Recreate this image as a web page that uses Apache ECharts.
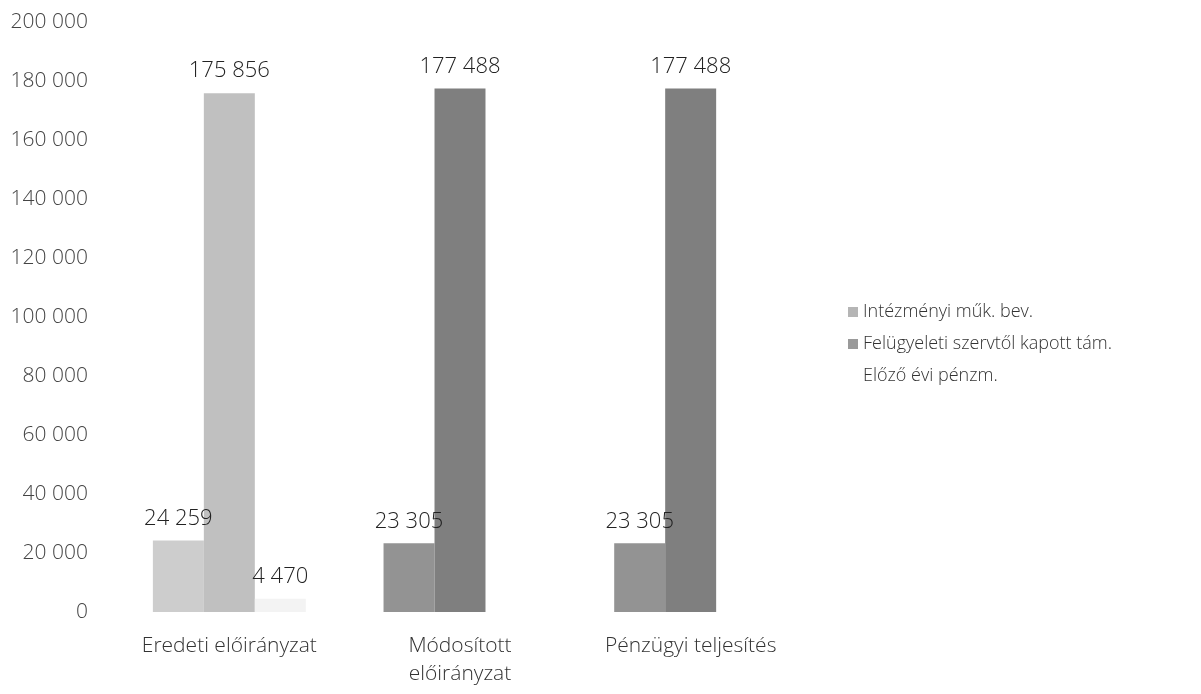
<!DOCTYPE html>
<html>
<head>
<meta charset="utf-8">
<script src="https://cdn.jsdelivr.net/npm/echarts@6/dist/echarts.min.js"></script>
<style>
html,body{margin:0;padding:0;background:#fff;}
#chart{width:1201px;height:694px;}
</style>
</head>
<body>
<div id="chart"></div>
<script>
var categories = ['Eredeti előirányzat', 'Módosított előirányzat', 'Pénzügyi teljesítés'];
var seriesNames = ['Intézményi műk. bev.', 'Felügyeleti szervtől kapott tám.', 'Előző évi pénzm.'];
var intezmenyi = [24259, 23305, 23305];
var felugyeleti = [175856, 177488, 177488];
var elozoEvi = [4470, null, null];
var yTicks = [0, 20000, 40000, 60000, 80000, 100000, 120000, 140000, 160000, 180000, 200000];

var fmt = function (v) {
  return String(v).replace(/\B(?=(\d{3})+(?!\d))/g, ' ');
};
var font = '"Open Sans", Lato, sans-serif';
// shades per series across categories (scanned: first group lighter)
var shades = [
  ['#cdcdcd', '#939393', '#939393'],
  ['#c0c0c0', '#7f7f7f', '#7f7f7f'],
  ['#f3f3f3', '#f3f3f3', '#f3f3f3']
];
var legendColors = ['#b5b5b5', '#9a9a9a', '#ffffff'];

function mkSeries(idx, data) {
  return {
    name: seriesNames[idx],
    type: 'bar',
    data: data,
    barGap: '0%',
    barCategoryGap: '33.7%',
    itemStyle: {
      color: function (p) { return shades[idx][p.dataIndex]; }
    },
    label: {
      show: true,
      position: 'top',
      distance: 11,
      fontFamily: font,
      fontWeight: 300,
      fontSize: 22,
      color: '#222',
      formatter: function (p) { return p.value == null ? '' : fmt(p.value); }
    }
  };
}

var chart = echarts.init(document.getElementById('chart'));
chart.setOption({
  animation: false,
  backgroundColor: '#fff',
  color: legendColors,
  grid: { left: 114, right: 395, top: 22, bottom: 82, containLabel: false },
  legend: {
    orient: 'vertical',
    left: 843,
    top: 298,
    itemWidth: 10,
    itemHeight: 10,
    itemGap: 14,
    icon: 'rect',
    textStyle: { fontFamily: font, fontWeight: 300, fontSize: 18, color: '#333' },
    data: seriesNames
  },
  xAxis: {
    type: 'category',
    data: categories,
    axisLine: { show: false },
    axisTick: { show: false },
    axisLabel: {
      margin: 20,
      fontFamily: font,
      fontWeight: 300,
      fontSize: 21,
      lineHeight: 28,
      color: '#333',
      interval: 0,
      formatter: function (v) { return v.length > 20 ? v.replace(' ', '\n') : v; }
    }
  },
  yAxis: {
    type: 'value',
    min: yTicks[0],
    max: yTicks[yTicks.length - 1],
    interval: yTicks[1] - yTicks[0],
    splitLine: { show: false },
    axisLine: { show: false },
    axisTick: { show: false },
    axisLabel: {
      margin: 26,
      fontFamily: font,
      fontWeight: 300,
      fontSize: 21,
      color: '#444',
      formatter: function (v) { return fmt(v); }
    }
  },
  series: [mkSeries(0, intezmenyi), mkSeries(1, felugyeleti), mkSeries(2, elozoEvi)]
});
</script>
</body>
</html>
